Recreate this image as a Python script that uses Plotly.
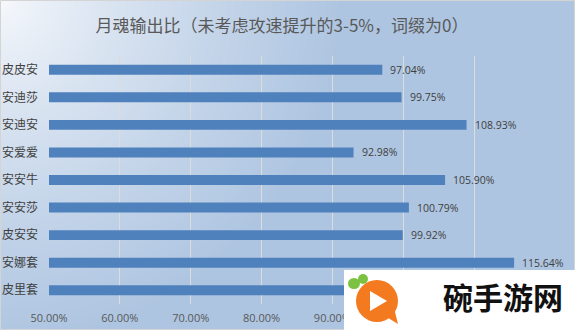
import base64
import math
import struct
import zlib

import plotly.graph_objects as go

# ---- data -------------------------------------------------------------
builds = ["皮皮安", "安迪莎", "安迪安", "安爱爱", "安安牛", "安安莎", "皮安安", "安娜套", "皮里套"]
output_ratio = [0.9704, 0.9975, 1.0893, 0.9298, 1.0590, 1.0079, 0.9992, 1.1564, 1.0150]
x_ticks = [0.5, 0.6, 0.7, 0.8, 0.9, 1.0, 1.1, 1.2]
title_text = "月魂输出比（未考虑攻速提升的3-5%，词缀为0）"
badge_text = "碗手游网"

# ---- canvas geometry ---------------------------------------------------
W, H = 575, 330
ML, MR, MT, MB = 49, 30, 56, 26
PW, PH = W - ML - MR, H - MT - MB
BADGE_X0, BADGE_Y0 = 344, 270   # top-left corner of the badge panel (px)


def px(x):
    return (x - ML) / PW


def py(y):
    return (H - MB - y) / PH


def x_to_px(v):
    return ML + (v - 0.5) / (1.2 - 0.5) * PW


# ---- soft corner gradient background (built as a PNG in memory) ------
def gradient_png(w, h):
    c0 = (247, 249, 252)
    c1 = (174, 197, 225)
    raw = bytearray()
    for y in range(h):
        raw.append(0)
        for x in range(w):
            d = math.hypot(x, y)
            t = min(d / 340.0, 1.0) ** 0.8
            raw.extend(int(round(a + (b - a) * t)) for a, b in zip(c0, c1))

    def chunk(tag, data):
        c = struct.pack(">I", len(data)) + tag + data
        return c + struct.pack(">I", zlib.crc32(tag + data) & 0xFFFFFFFF)

    png = b"\x89PNG\r\n\x1a\n"
    png += chunk(b"IHDR", struct.pack(">IIBBBBB", w, h, 8, 2, 0, 0, 0))
    png += chunk(b"IDAT", zlib.compress(bytes(raw), 9))
    png += chunk(b"IEND", b"")
    return "data:image/png;base64," + base64.b64encode(png).decode()


fig = go.Figure()

fig.add_trace(go.Bar(
    x=output_ratio,
    y=builds,
    orientation="h",
    marker=dict(color="#4f81bd", line=dict(width=0)),
    hoverinfo="skip",
))

# the badge panel sits over the bottom-right corner; labels that fall
# completely underneath it are left out
row_px = [MT + PH * (i + 0.5) / len(builds) for i in range(len(builds))]
value_labels = [
    dict(x=v, y=b, xref="x", yref="y", text=f"{v * 100:.2f}%",
         showarrow=False, xanchor="left", yanchor="middle", xshift=6,
         font=dict(family="Open Sans, Noto Sans CJK SC", size=10.5, color="#404040"))
    for v, b, r in zip(output_ratio, builds, row_px)
    if r < BADGE_Y0
]

tick_text = [f"{t * 100:.2f}%" if x_to_px(t) - 22 < BADGE_X0 else "" for t in x_ticks]

shapes = [
    # outer border
    dict(type="rect", xref="paper", yref="paper",
         x0=px(0.5), x1=px(W - 0.5), y0=py(0.5), y1=py(H - 0.5),
         line=dict(color="#d4d4d4", width=1), layer="above"),
    # badge panel
    dict(type="rect", xref="paper", yref="paper",
         x0=px(BADGE_X0), x1=px(W + 2), y0=py(BADGE_Y0), y1=py(H + 2),
         fillcolor="white", line=dict(width=0), layer="above"),
    # badge logo: orange bubble with tail
    dict(type="circle", xref="paper", yref="paper",
         x0=px(356), x1=px(398), y0=py(280), y1=py(322),
         fillcolor="#f47a20", line=dict(width=0), layer="above"),
    dict(type="path", xref="paper", yref="paper",
         path=f"M {px(385)},{py(316)} L {px(398)},{py(324)} L {px(394)},{py(308)} Z",
         fillcolor="#f47a20", line=dict(width=0), layer="above"),
    # play triangle
    dict(type="path", xref="paper", yref="paper",
         path=f"M {px(370)},{py(291)} L {px(370)},{py(311)} L {px(387)},{py(301)} Z",
         fillcolor="white", line=dict(width=0), layer="above"),
    # leaves
    dict(type="circle", xref="paper", yref="paper",
         x0=px(348), x1=px(360), y0=py(278), y1=py(289),
         fillcolor="#7cc242", line=dict(width=0), layer="above"),
    dict(type="circle", xref="paper", yref="paper",
         x0=px(358), x1=px(368), y0=py(274), y1=py(284),
         fillcolor="#7cc242", line=dict(width=0), layer="above"),
]

annotations = value_labels + [
    dict(xref="paper", yref="paper", x=px(503), y=py(296),
         text=f"<b>{badge_text}</b>", showarrow=False,
         xanchor="center", yanchor="middle",
         font=dict(family="Noto Sans CJK SC", size=30, color="#111111")),
]

fig.update_layout(
    width=W,
    height=H,
    margin=dict(l=ML, r=MR, t=MT, b=MB, pad=0),
    paper_bgcolor="rgba(0,0,0,0)",
    plot_bgcolor="rgba(0,0,0,0)",
    bargap=0.64,
    showlegend=False,
    title=dict(
        text=title_text,
        x=282 / W, xanchor="center",
        y=1 - 26 / H, yanchor="middle",
        font=dict(family="Noto Sans CJK SC", size=17, color="#595959"),
    ),
    images=[dict(
        source=gradient_png(W, H),
        xref="paper", yref="paper",
        x=px(0), y=py(0), sizex=W / PW, sizey=H / PH,
        xanchor="left", yanchor="top", sizing="stretch", layer="below",
    )],
    shapes=shapes,
    annotations=annotations,
    xaxis=dict(
        range=[0.5, 1.2],
        tickvals=x_ticks,
        ticktext=tick_text,
        showgrid=True,
        gridcolor="#dcdcdc",
        gridwidth=1,
        zeroline=False,
        showline=False,
        ticks="",
        ticklabelstandoff=6,
        automargin=False,
        tickfont=dict(family="Open Sans, Noto Sans CJK SC", size=11, color="#595959"),
        fixedrange=True,
    ),
    yaxis=dict(
        autorange="reversed",
        showgrid=False,
        zeroline=False,
        showline=False,
        ticks="",
        ticklabelstandoff=10,
        automargin=False,
        tickfont=dict(family="Noto Sans CJK SC", size=12, color="#404040"),
        fixedrange=True,
    ),
)

fig.write_html("out.html")
